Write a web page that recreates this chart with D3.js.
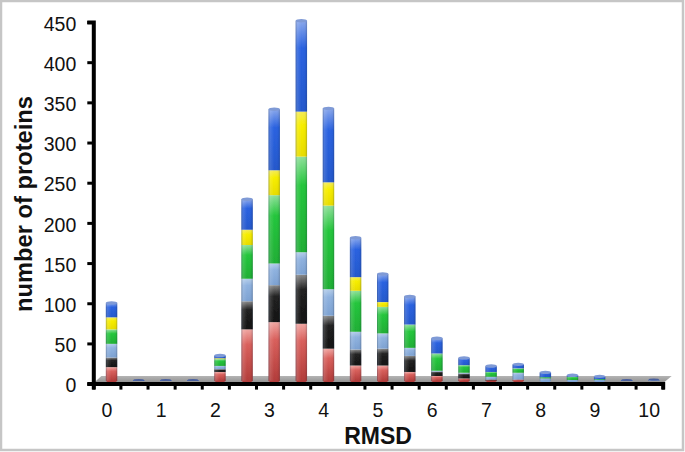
<!DOCTYPE html>
<html>
<head>
<meta charset="utf-8">
<script src="https://cdn.jsdelivr.net/npm/d3@7"></script>
<style>
  html, body { margin: 0; padding: 0; background: #fff; }
  svg { display: block; }
  text { font-family: "Liberation Sans", Arial, sans-serif; fill: #111; }
</style>
</head>
<body>
<div id="chart"></div>
<script>
/* DATA */
const bins = [0, 0.5, 1, 1.5, 2, 2.5, 3, 3.5, 4, 4.5, 5, 5.5, 6, 6.5, 7, 7.5, 8, 8.5, 9, 9.5, 10];
const seriesNames = ["red", "black", "ltblue", "green", "yellow", "blue"];
const red    = [17, 0, 0, 0, 11, 64, 73, 71, 40, 19, 19, 11, 6, 3, 0.5, 1.5, 0, 0, 0, 0, 0];
const black  = [12, 0, 0, 0, 3.5, 35, 46, 61, 41, 20, 21, 20, 5.5, 6, 1, 0, 0, 0, 0, 0, 0];
const ltblue = [17, 0, 0, 0, 4, 28, 27, 28, 33, 22, 19, 10, 1, 1, 3.5, 8.5, 3, 1, 1, 0, 0.5];
const green  = [18, 0, 0, 0, 8.5, 42, 85, 119, 104, 51, 33, 29, 21.5, 9.5, 6, 5.5, 1.5, 4, 1, 0, 0];
const yellow = [15, 0, 0, 0, 1, 19, 31, 56, 29, 17, 6, 0, 0, 0, 0, 0, 0, 0, 0, 0, 0];
const blue   = [18, 1, 1, 1, 3.5, 38, 76, 113, 92, 49, 35, 35, 19, 9, 7.5, 5, 6, 2, 3.5, 1, 1];
const yTicks = [0, 50, 100, 150, 200, 250, 300, 350, 400, 450];
const xLabels = ["0", "1", "2", "3", "4", "5", "6", "7", "8", "9", "10"];

/* CONSTANTS */
const width = 685;
const height = 452;
const colors = {
  red: ["#f0a6a2", "#d9605c", "#b23c3a"],
  black: ["#8a8a8a", "#222222", "#111111"],
  ltblue: ["#b4cdea", "#8fb2df", "#7da2d2"],
  green: ["#8fe09a", "#24c63c", "#1fae35"],
  yellow: ["#f3ea5a", "#f7ee00", "#e8dc00"],
  blue: ["#8aa8ec", "#2a62e0", "#2458cc"]
};

/* SCALES */
const yScale = d3.scaleLinear().domain([0, 450]).range([383.6, 22]);
const xBand = d3.scaleBand().domain(bins).range([93.3, 662.7]);
const tickScale = d3.scaleLinear().domain([0, bins.length]).range([93.3, 662.7]);
const barW = xBand.bandwidth() * 0.42;
const shiftX = 4.7;   // fake 3d: bars stand back from the axis
const shiftY = -2.8;

const rows = bins.map((b, i) => ({ bin: b, red: red[i], black: black[i], ltblue: ltblue[i], green: green[i], yellow: yellow[i], blue: blue[i] }));
const stacked = d3.stack().keys(seriesNames)(rows);

/* HTML ELEMENTS */
const svg = d3.select("#chart").append("svg")
  .attr("width", width)
  .attr("height", height);

const defs = svg.append("defs");
defs.append("filter").attr("id", "soft")
  .append("feGaussianBlur").attr("stdDeviation", 0.35);

seriesNames.forEach(k => {
  const g = defs.append("linearGradient").attr("id", "seg-" + k)
    .attr("x1", 0).attr("y1", 0).attr("x2", 0).attr("y2", 1);
  g.append("stop").attr("offset", 0).attr("stop-color", colors[k][0]);
  g.append("stop").attr("offset", 0.3).attr("stop-color", colors[k][1]);
  g.append("stop").attr("offset", 1).attr("stop-color", colors[k][2]);
});

// cylinder shading laid over each bar
const cyl = defs.append("linearGradient").attr("id", "cyl")
  .attr("x1", 0).attr("y1", 0).attr("x2", 1).attr("y2", 0);
[[0, "#30405a", 0.4], [0.18, "#ffffff", 0.12], [0.5, "#ffffff", 0], [0.85, "#000000", 0.03], [1, "#30405a", 0.3]].forEach(s => {
  cyl.append("stop").attr("offset", s[0]).attr("stop-color", s[1]).attr("stop-opacity", s[2]);
});

const floorG = defs.append("linearGradient").attr("id", "floor")
  .attr("x1", 0).attr("y1", 0).attr("x2", 0).attr("y2", 1);
floorG.append("stop").attr("offset", 0).attr("stop-color", "#b4b4b4");
floorG.append("stop").attr("offset", 1).attr("stop-color", "#8c8c8c");

// outer frame
svg.append("rect")
  .attr("x", 1).attr("y", 1)
  .attr("width", width - 3).attr("height", height - 3)
  .attr("fill", "#fff")
  .attr("stroke", "#c6c6c6")
  .attr("stroke-width", 2.5);

// floor of the 3d plot
const x0 = tickScale(0), x1 = tickScale(bins.length), y0 = yScale(0);
svg.append("path")
  .attr("d", `M${x0},${y0} L${x0 + 8},${y0 - 7.5} L${x1 + 9},${y0 - 7.5} L${x1},${y0} Z`)
  .attr("fill", "url(#floor)");

/* BARS */
const bars = svg.append("g").attr("filter", "url(#soft)");
const barX = d => xBand(d.data.bin) + xBand.bandwidth() / 2 + shiftX - barW / 2;

// round foot of each column
const totals = rows.map(r => d3.sum(seriesNames, k => r[k]));
const firstKey = r => seriesNames.find(k => r[k] > 0);
bars.selectAll("ellipse.foot")
  .data(rows)
  .join("ellipse")
  .attr("class", "foot")
  .attr("cx", d => xBand(d.bin) + xBand.bandwidth() / 2 + shiftX)
  .attr("cy", yScale(0) + shiftY)
  .attr("rx", barW / 2)
  .attr("ry", d => d3.sum(seriesNames, k => d[k]) > 2 ? 1.6 : 0)
  .attr("fill", d => colors[firstKey(d)][2]);

bars.selectAll("g.layer")
  .data(stacked)
  .join("g")
  .attr("class", "layer")
  .attr("fill", d => `url(#seg-${d.key})`)
  .selectAll("rect")
  .data(d => d)
  .join("rect")
  .attr("x", barX)
  .attr("y", d => yScale(d[1]) + shiftY)
  .attr("width", barW)
  .attr("height", d => yScale(d[0]) - yScale(d[1]));

// shading over the whole column
bars.selectAll("rect.shade")
  .data(stacked[stacked.length - 1])
  .join("rect")
  .attr("class", "shade")
  .attr("x", barX)
  .attr("y", d => yScale(d[1]) + shiftY)
  .attr("width", barW)
  .attr("height", d => yScale(0) - yScale(d[1]))
  .attr("fill", "url(#cyl)");

// lid of each column
bars.selectAll("ellipse.lid")
  .data(rows)
  .join("ellipse")
  .attr("class", "lid")
  .attr("cx", d => xBand(d.bin) + xBand.bandwidth() / 2 + shiftX)
  .attr("cy", (d, i) => yScale(totals[i]) + shiftY)
  .attr("rx", (d, i) => totals[i] > 2 ? barW / 2 : barW / 2 - 0.5)
  .attr("ry", (d, i) => totals[i] > 2 ? 1.7 : 1)
  .attr("fill", (d, i) => totals[i] > 2 ? "#7f9ad6" : "#4a5f9c");

/* AXES */
const yAxis = svg.append("g")
  .attr("transform", `translate(${x0},0)`)
  .call(d3.axisLeft(yScale).tickValues(yTicks).tickSize(6).tickPadding(11));
yAxis.select(".domain").attr("stroke", "#000").attr("stroke-width", 4);
yAxis.selectAll(".tick line").attr("stroke", "#000").attr("stroke-width", 3);
yAxis.selectAll(".tick text")
  .attr("font-size", 19.5)
  .attr("dy", "0.42em")
  .style("font-family", '"Liberation Sans", Arial, sans-serif');

const xAxis = svg.append("g")
  .attr("transform", `translate(0,${y0})`)
  .call(d3.axisBottom(tickScale).tickValues(d3.range(bins.length + 1)).tickSize(6).tickFormat(""));
xAxis.select(".domain").attr("stroke", "#000").attr("stroke-width", 4);
xAxis.selectAll(".tick line").attr("stroke", "#000").attr("stroke-width", 3);

svg.selectAll("text.xlabel")
  .data(xLabels)
  .join("text")
  .attr("class", "xlabel")
  .attr("x", d => xBand(+d) + xBand.bandwidth() / 2)
  .attr("y", 417)
  .attr("text-anchor", "middle")
  .attr("font-size", 19.5)
  .text(d => d);

/* AXIS TITLES */
svg.append("text")
  .attr("x", 378)
  .attr("y", 443.5)
  .attr("text-anchor", "middle")
  .attr("font-size", 23)
  .attr("font-weight", "bold")
  .text("RMSD");

svg.append("text")
  .attr("transform", "translate(32,204) rotate(-90)")
  .attr("text-anchor", "middle")
  .attr("font-size", 23.7)
  .attr("font-weight", "bold")
  .text("number of proteins");
</script>
</body>
</html>
